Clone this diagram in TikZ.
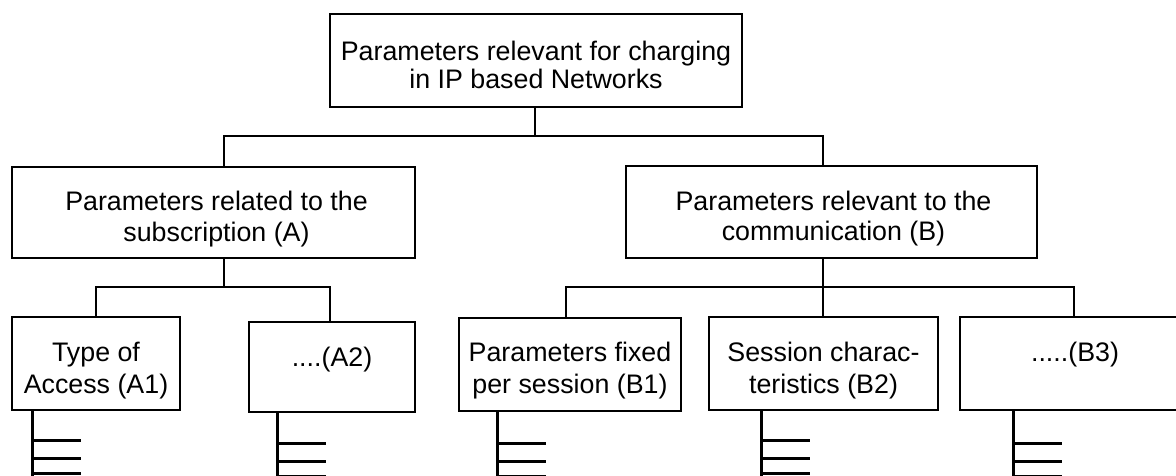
\documentclass[tikz,border=0pt]{standalone}
\usepackage{fontspec}
\setmainfont{Liberation Sans}
\begin{document}
\begin{tikzpicture}[x=1pt,y=-1pt,
  box/.style={draw, line width=2.9pt, inner sep=0pt},
  lbl/.style={anchor=north, inner sep=0pt, align=center,
    font=\fontsize{26.8pt}{#1}\selectfont},
  lbl/.default=31pt,
  link/.style={line width=2.8pt},
  rake/.style={line width=2.9pt}]
\useasboundingbox (0,0) rectangle (1176,475);
\clip (0,0) rectangle (1176,475);

% boxes
\node[box, minimum width=412pt, minimum height=93pt] (top) at (536,60.5) {};
\node[box, minimum width=403pt, minimum height=91pt] (A) at (213.5,212.5) {};
\node[box, minimum width=411pt, minimum height=92pt] (B) at (831.5,212) {};
\node[box, minimum width=168pt, minimum height=93pt] (A1) at (96,363.5) {};
\node[box, minimum width=166pt, minimum height=90pt] (A2) at (332,367) {};
\node[box, minimum width=222pt, minimum height=93pt] (B1) at (570,364.5) {};
\node[box, minimum width=229pt, minimum height=93pt] (B2) at (823.5,363.5) {};
\node[box, minimum width=230pt, minimum height=93pt] (B3) at (1075,363.5) {};

% box texts
\node[lbl=28.3pt] at ([yshift=-28pt]top.north) {Parameters relevant for charging\\in IP based Networks};
\node[lbl=31pt] at ([xshift=3pt,yshift=-25.5pt]A.north) {Parameters related to the\\subscription (A)};
\node[lbl=30pt] at ([xshift=2pt,yshift=-26pt]B.north) {Parameters relevant to the\\communication (B)};
\node[lbl=32pt] at ([yshift=-26.5pt]A1.north) {Type of\\Access (A1)};
\node[lbl] at ([yshift=-26.5pt]A2.north) {....(A2)};
\node[lbl=32pt] at ([yshift=-25.5pt]B1.north) {Parameters fixed\\per session (B1)};
\node[lbl=32pt] at ([yshift=-26pt]B2.north) {Session charac-\\teristics (B2)};
\node[lbl] at ([yshift=-26.5pt]B3.north) {.....(B3)};

% tree connectors
\coordinate (j0) at (535,136);
\coordinate (jA) at (224,287);
\coordinate (jB) at (823,287);
\draw[link] (top.south -| j0) -- (j0);
\draw[link] (A.north -| jA) |- (j0) -| (B.north -| jB);
\draw[link] (A.south -| jA) -- (jA);
\draw[link] (A1.north) |- (jA) -| (A2.north -| 330,0);
\draw[link] (B.south -| jB) -- (jB);
\draw[link] (B1.north -| 566,0) |- (jB) -| (B3.north -| 1074,0);
\draw[link] (jB) -- (B2.north -| jB);

% list rakes below the leaf boxes
\foreach \n/\dx/\t in {A1/22/29, A2/30/30, B1/40/31, B2/54/29, B3/55/32}{
  \draw[rake] ([xshift=\dx pt]\n.south west) -- ++(0,80);
  \foreach \k in {0,18,33}
    \draw[rake] ([xshift=\dx pt, yshift={-(\t+\k)*1pt}]\n.south west) -- ++(48,0);
}
\end{tikzpicture}
\end{document}
